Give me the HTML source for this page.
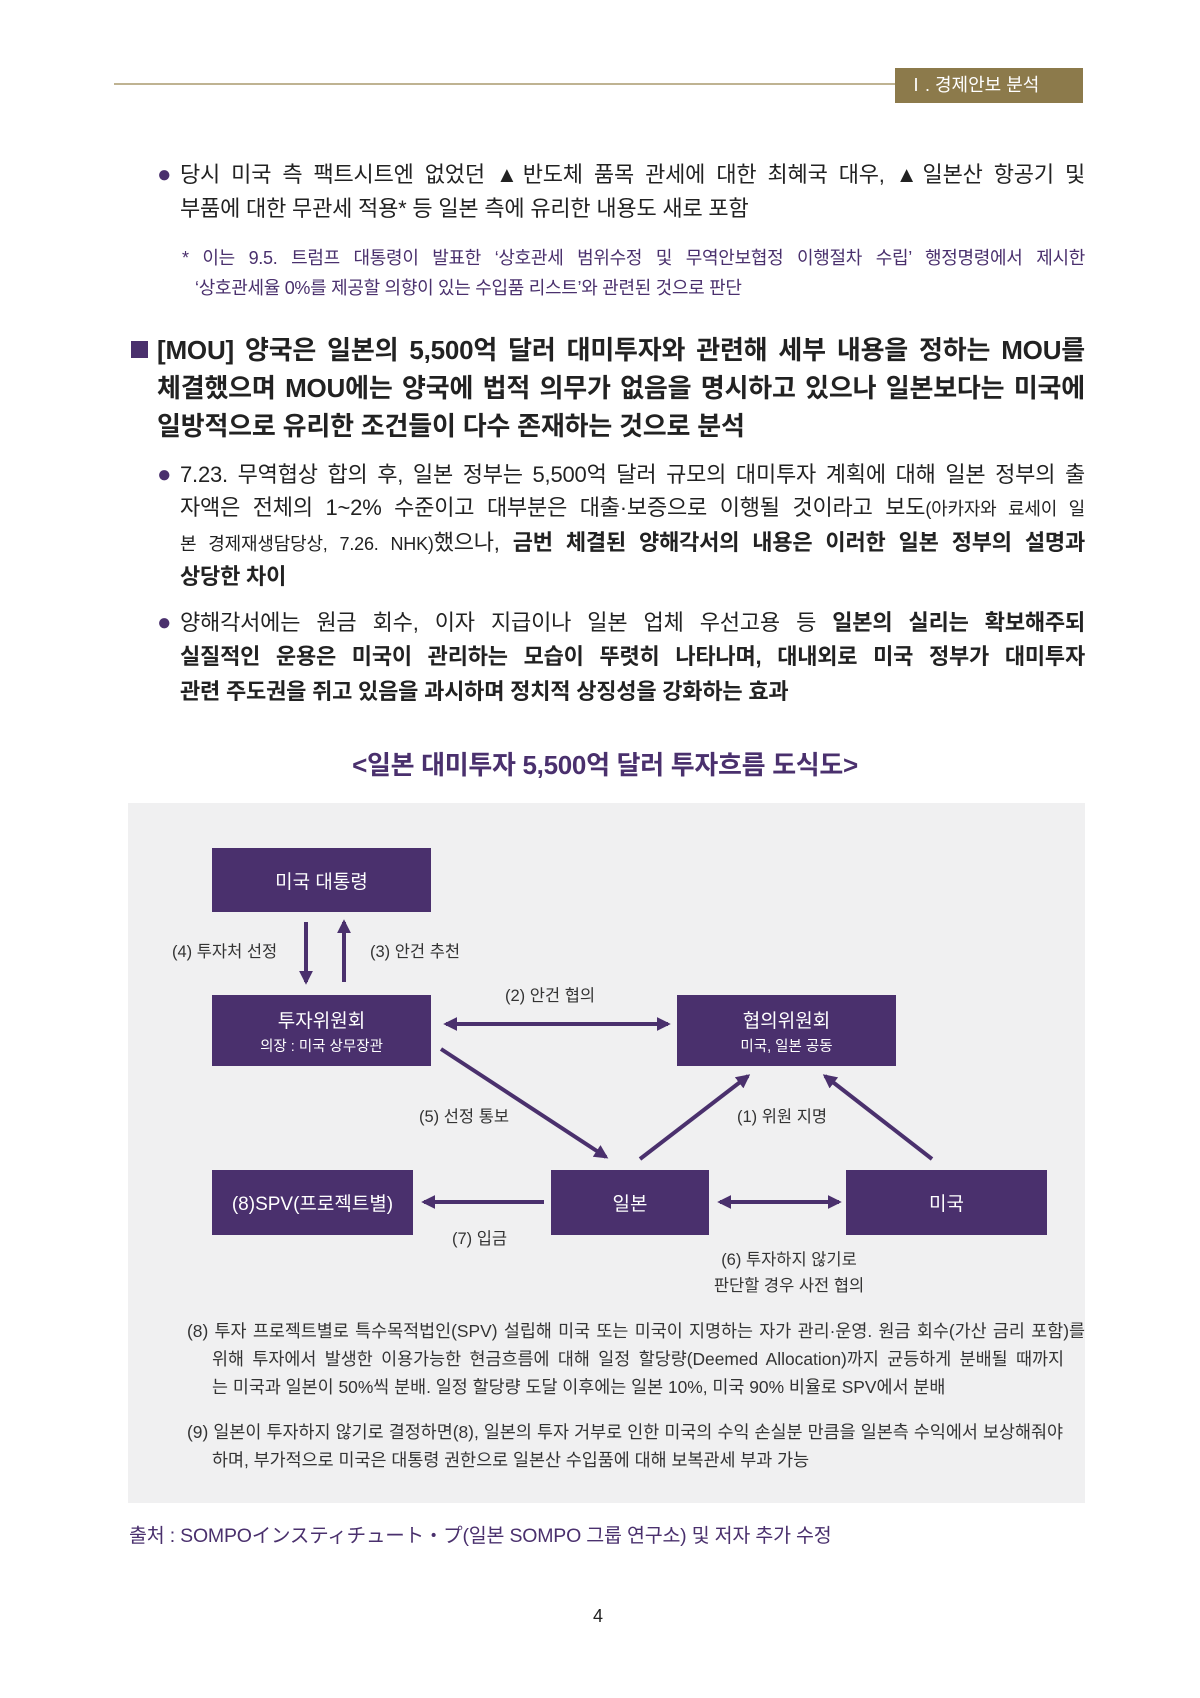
<!DOCTYPE html>
<html><head><meta charset="utf-8">
<style>
body{margin:0;background:#fff;}
#p{position:relative;width:1200px;height:1698px;overflow:hidden;font-family:"Liberation Sans","Noto Sans CJK KR",sans-serif;color:#222;}
.l{position:absolute;white-space:nowrap;line-height:30px;height:30px;}
.j{text-align:justify;text-align-last:justify;}
.b{font-weight:bold;}
.pu{color:#4a306d;}
.box{position:absolute;background:#4a306d;color:#fff;display:flex;flex-direction:column;align-items:center;justify-content:center;font-size:19px;}
.box small{font-size:14.5px;margin-top:2px;}
.dl{position:absolute;font-size:16.5px;white-space:nowrap;line-height:20px;color:#333;}
.n{position:absolute;font-size:17.4px;white-space:nowrap;line-height:24px;color:#333;letter-spacing:0;}
.bu{position:absolute;font-size:24px;line-height:30px;color:#4a306d;}
</style></head><body><div id="p">
<div style="position:absolute;left:114px;top:83px;width:785px;height:2px;background:#bfb392"></div>
<div style="position:absolute;left:895px;top:68px;width:188px;height:35px;background:#8c7a4b;color:#fff;font-size:18px;line-height:35px;padding-left:12px;box-sizing:border-box">Ⅰ. 경제안보 분석</div>

<div class="bu" style="left:157px;top:160px">●</div>
<div class="l j" style="left:180px;top:160px;width:905px;font-size:22px;letter-spacing:-0.2px">당시 미국 측 팩트시트엔 없었던 ▲반도체 품목 관세에 대한 최혜국 대우, ▲일본산 항공기 및</div>
<div class="l" style="left:180px;top:194px;font-size:22px;letter-spacing:-0.2px">부품에 대한 무관세 적용* 등 일본 측에 유리한 내용도 새로 포함</div>
<div class="l j pu" style="left:182px;top:243px;width:903px;font-size:18px;letter-spacing:-0.3px">* 이는 9.5. 트럼프 대통령이 발표한 ‘상호관세 범위수정 및 무역안보협정 이행절차 수립’ 행정명령에서 제시한</div>
<div class="l pu" style="left:195px;top:273px;font-size:18px;letter-spacing:-0.3px">‘상호관세율 0%를 제공할 의향이 있는 수입품 리스트’와 관련된 것으로 판단</div>

<div style="position:absolute;left:131px;top:341px;width:17px;height:17px;background:#4a306d"></div>
<div class="l j b" style="left:157px;top:334px;width:928px;font-size:26px;line-height:32px;letter-spacing:-0.2px">[MOU] 양국은 일본의 5,500억 달러 대미투자와 관련해 세부 내용을 정하는 MOU를</div>
<div class="l j b" style="left:157px;top:372px;width:928px;font-size:26px;line-height:32px;letter-spacing:-0.2px">체결했으며 MOU에는 양국에 법적 의무가 없음을 명시하고 있으나 일본보다는 미국에</div>
<div class="l b" style="left:157px;top:410px;font-size:26px;line-height:32px;letter-spacing:-0.2px">일방적으로 유리한 조건들이 다수 존재하는 것으로 분석</div>

<div class="bu" style="left:157px;top:460px">●</div>
<div class="l j" style="left:180px;top:460px;width:905px;font-size:22px;letter-spacing:-0.2px">7.23. 무역협상 합의 후, 일본 정부는 5,500억 달러 규모의 대미투자 계획에 대해 일본 정부의 출</div>
<div class="l j" style="left:180px;top:493px;width:905px;font-size:22px;letter-spacing:-0.2px">자액은 전체의 1~2% 수준이고 대부분은 대출·보증으로 이행될 것이라고 보도<span style="font-size:18px">(아카자와 료세이 일</span></div>
<div class="l j" style="left:180px;top:528px;width:905px;font-size:22px;letter-spacing:-0.2px"><span style="font-size:18px">본 경제재생담당상, 7.26. NHK)</span>했으나, <b>금번 체결된 양해각서의 내용은 이러한 일본 정부의 설명과</b></div>
<div class="l b" style="left:180px;top:562px;font-size:22px;letter-spacing:-0.2px">상당한 차이</div>

<div class="bu" style="left:157px;top:608px">●</div>
<div class="l j" style="left:180px;top:608px;width:905px;font-size:22px;letter-spacing:-0.2px">양해각서에는 원금 회수, 이자 지급이나 일본 업체 우선고용 등 <b>일본의 실리는 확보해주되</b></div>
<div class="l j b" style="left:180px;top:642px;width:905px;font-size:22px;letter-spacing:-0.2px">실질적인 운용은 미국이 관리하는 모습이 뚜렷히 나타나며, 대내외로 미국 정부가 대미투자</div>
<div class="l b" style="left:180px;top:677px;font-size:22px;letter-spacing:-0.2px">관련 주도권을 쥐고 있음을 과시하며 정치적 상징성을 강화하는 효과</div>

<div class="l b pu" style="left:0;top:750px;width:1210px;text-align:center;font-size:26px;letter-spacing:-0.3px">&lt;일본 대미투자 5,500억 달러 투자흐름 도식도&gt;</div>

<div style="position:absolute;left:128px;top:803px;width:957px;height:700px;background:#f0f0f1"></div>
<svg style="position:absolute;left:0;top:0" width="1200" height="1698">
<defs>
<marker id="h" viewBox="0 0 10 10" refX="8" refY="5" markerWidth="14" markerHeight="16" orient="auto-start-reverse" markerUnits="userSpaceOnUse"><path d="M0,0 L10,5 L0,10 Z" fill="#4a306d"/></marker></defs>
<g stroke="#4a306d" stroke-width="4" fill="none">
<line x1="306" y1="922" x2="306" y2="982" marker-end="url(#h)"/>
<line x1="344" y1="982" x2="344" y2="922" marker-end="url(#h)"/>
<line x1="446" y1="1024" x2="668" y2="1024" marker-start="url(#h)" marker-end="url(#h)"/>
<line x1="441" y1="1049" x2="606" y2="1157" marker-end="url(#h)"/>
<line x1="640" y1="1159" x2="748" y2="1076" marker-end="url(#h)"/>
<line x1="932" y1="1159" x2="825" y2="1076" marker-end="url(#h)"/>
<line x1="544" y1="1202" x2="424" y2="1202" marker-end="url(#h)"/>
<line x1="720" y1="1202" x2="839" y2="1202" marker-start="url(#h)" marker-end="url(#h)"/>
</g></svg>
<div class="box" style="left:212px;top:848px;width:219px;height:64px">미국 대통령</div>
<div class="box" style="left:212px;top:995px;width:219px;height:71px"><span>투자위원회</span><small>의장 : 미국 상무장관</small></div>
<div class="box" style="left:677px;top:995px;width:219px;height:71px"><span>협의위원회</span><small>미국, 일본 공동</small></div>
<div class="box" style="left:212px;top:1170px;width:201px;height:65px">(8)SPV(프로젝트별)</div>
<div class="box" style="left:551px;top:1170px;width:158px;height:65px">일본</div>
<div class="box" style="left:846px;top:1170px;width:201px;height:65px">미국</div>
<div class="dl" style="left:172px;top:942px">(4) 투자처 선정</div>
<div class="dl" style="left:370px;top:942px">(3) 안건 추천</div>
<div class="dl" style="left:505px;top:986px">(2) 안건 협의</div>
<div class="dl" style="left:419px;top:1107px">(5) 선정 통보</div>
<div class="dl" style="left:737px;top:1107px">(1) 위원 지명</div>
<div class="dl" style="left:452px;top:1229px">(7) 입금</div>
<div class="dl" style="left:689px;top:1247px;width:200px;text-align:center;line-height:26px">(6) 투자하지 않기로<br>판단할 경우 사전 협의</div>

<div class="n j" style="left:187px;top:1319px;width:898px">(8) 투자 프로젝트별로 특수목적법인(SPV) 설립해 미국 또는 미국이 지명하는 자가 관리·운영. 원금 회수(가산 금리 포함)를</div>
<div class="n j" style="left:212px;top:1347px;width:852px">위해 투자에서 발생한 이용가능한 현금흐름에 대해 일정 할당량(Deemed Allocation)까지 균등하게 분배될 때까지</div>
<div class="n" style="left:212px;top:1375px">는 미국과 일본이 50%씩 분배. 일정 할당량 도달 이후에는 일본 10%, 미국 90% 비율로 SPV에서 분배</div>
<div class="n j" style="left:187px;top:1420px;width:876px">(9) 일본이 투자하지 않기로 결정하면(8), 일본의 투자 거부로 인한 미국의 수익 손실분 만큼을 일본측 수익에서 보상해줘야</div>
<div class="n" style="left:212px;top:1448px">하며, 부가적으로 미국은 대통령 권한으로 일본산 수입품에 대해 보복관세 부과 가능</div>

<div class="l pu" style="left:129px;top:1521px;font-size:19.5px;letter-spacing:-0.2px">출처 : SOMPOインスティチュート・プ(일본 SOMPO 그룹 연구소) 및 저자 추가 수정</div>
<div class="l" style="left:588px;top:1601px;font-size:18px;width:20px;text-align:center">4</div>
</div></body></html>
